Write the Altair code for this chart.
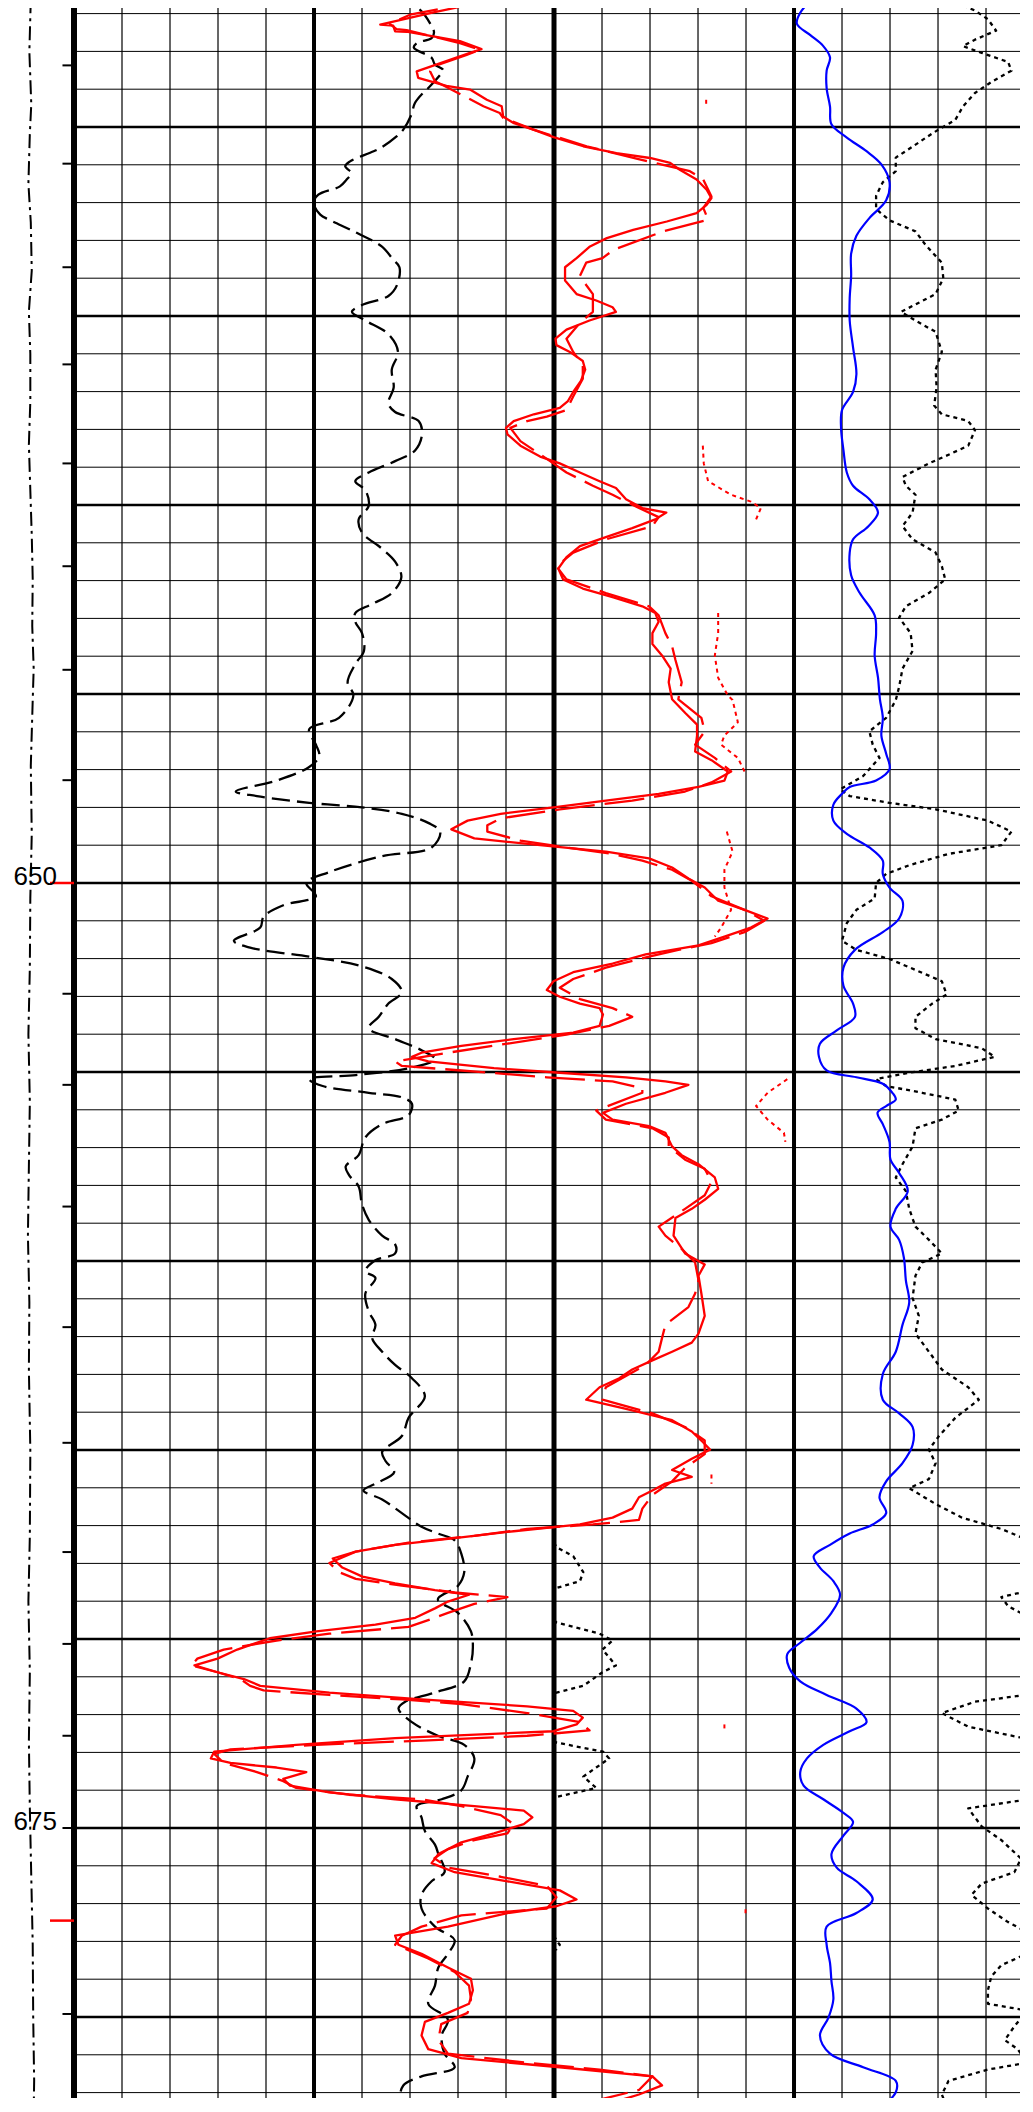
import altair as alt
import pandas as pd

# ---------------- data ----------------
# depth (ft) vs. grid-division value (track 1: 0-10, track 2: 10-20)

BLACK_DASHED = [
    (626.63, 6.72), (626.76, 7.00), (626.90, 7.21), (627.33, 7.45), (627.50, 7.50), (627.65, 7.45),
    (627.78, 7.14), (627.90, 7.08), (628.17, 7.45), (628.35, 7.52), (628.49, 7.69), (628.57, 7.66),
    (629.01, 7.35), (629.10, 7.27), (629.37, 7.10), (629.67, 7.03), (630.07, 6.86), (630.25, 6.72),
    (630.56, 6.38), (630.68, 6.17), (630.91, 5.75), (631.04, 5.65), (631.22, 5.78), (631.39, 5.68),
    (631.57, 5.54), (631.79, 5.09), (632.01, 4.99), (632.32, 5.13), (632.46, 5.33), (632.80, 5.89),
    (633.16, 6.41), (633.51, 6.65), (633.71, 6.78), (634.18, 6.73), (634.47, 6.55), (634.71, 6.00),
    (634.89, 5.79), (635.12, 6.07), (635.48, 6.55), (635.95, 6.75), (636.42, 6.62), (636.89, 6.66),
    (637.31, 6.55), (637.54, 6.69), (637.78, 7.18), (638.13, 7.25), (638.55, 7.11), (638.84, 6.69),
    (639.14, 6.14), (639.37, 5.86), (639.61, 6.07), (640.02, 6.14), (640.38, 5.93), (640.73, 6.00),
    (641.15, 6.41), (641.50, 6.69), (641.91, 6.82), (642.33, 6.62), (642.62, 6.21), (642.86, 5.86),
    (643.09, 5.86), (643.39, 6.00), (643.86, 6.04), (644.21, 5.86), (644.69, 5.70), (645.04, 5.82),
    (645.63, 5.52), (645.93, 4.90), (646.34, 5.04), (646.64, 5.11), (646.93, 4.90), (647.29, 4.22),
    (647.58, 3.37), (647.70, 3.81), (647.88, 4.90), (648.00, 6.00), (648.17, 6.83), (648.41, 7.38),
    (648.64, 7.63), (649.06, 7.45), (649.29, 6.42), (649.71, 5.32), (650.00, 4.84), (650.35, 5.04),
    (650.59, 4.36), (650.89, 3.95), (651.18, 3.88), (651.53, 3.33), (651.71, 3.67), (651.95, 4.90),
    (652.18, 5.93), (652.54, 6.62), (652.89, 6.83), (653.19, 6.55), (653.54, 6.35), (653.84, 6.14),
    (654.13, 6.69), (654.43, 7.25), (654.66, 7.52), (654.90, 6.97), (655.08, 5.87), (655.19, 4.90),
    (655.37, 5.18), (655.55, 6.14), (655.67, 6.83), (655.84, 7.04), (656.14, 6.97), (656.38, 6.42),
    (656.73, 6.07), (657.20, 5.93), (657.50, 5.66), (657.73, 5.73), (658.03, 5.93), (658.50, 6.00),
    (658.91, 6.14), (659.33, 6.42), (659.56, 6.69), (659.80, 6.69), (659.98, 6.28), (660.27, 6.07),
    (660.45, 6.28), (660.86, 6.07), (661.33, 6.14), (661.69, 6.28), (662.04, 6.21), (662.40, 6.42),
    (662.75, 6.69), (663.10, 7.04), (663.58, 7.31), (664.15, 6.97), (664.63, 6.83), (665.05, 6.42),
    (665.29, 6.49), (665.59, 6.67), (665.89, 6.28), (666.07, 6.03), (666.31, 6.42), (666.67, 6.83),
    (667.03, 7.24), (667.21, 7.58), (667.39, 7.93), (667.75, 8.07), (668.23, 8.13), (668.59, 8.00),
    (668.95, 7.58), (669.31, 8.00), (669.80, 8.27), (670.22, 8.31), (670.64, 8.27), (671.12, 8.13),
    (671.42, 7.51), (671.66, 6.90), (671.84, 6.76), (672.20, 7.04), (672.56, 7.58), (672.80, 8.13),
    (673.16, 8.34), (673.64, 8.20), (674.00, 8.07), (674.24, 7.66), (674.42, 7.14), (674.72, 7.24),
    (675.08, 7.31), (675.44, 7.52), (675.69, 7.59), (676.17, 7.72), (676.41, 7.45), (676.77, 7.24),
    (677.13, 7.24), (677.61, 7.52), (677.97, 7.93), (678.33, 7.79), (678.69, 7.59), (679.17, 7.52),
    (679.65, 7.38), (680.07, 7.79), (680.49, 7.66), (680.97, 7.72), (681.33, 7.93), (681.57, 7.24),
    (681.81, 6.86), (682.18, 6.79), (682.51, 6.83),
]

RED_SOLID = [
    (626.63, 8.74), (626.97, 7.49), (627.29, 6.38), (627.32, 6.65), (627.47, 6.69), (627.48, 6.93),
    (627.73, 8.04), (627.94, 8.49), (628.04, 8.25), (628.53, 7.14), (628.70, 7.17), (628.91, 7.76),
    (629.01, 8.25), (629.28, 8.60), (629.45, 8.91), (629.72, 8.94), (629.89, 9.15), (630.07, 9.57),
    (630.27, 9.99), (630.51, 10.61), (630.69, 11.30), (630.82, 12.00), (630.95, 12.42), (631.13, 12.62),
    (631.39, 12.97), (631.66, 13.18), (631.88, 13.28), (632.06, 13.18), (632.28, 12.97), (632.50, 12.35),
    (632.72, 11.65), (632.94, 11.10), (633.16, 10.75), (633.47, 10.47), (633.71, 10.23), (634.06, 10.23),
    (634.42, 10.47), (634.59, 10.88), (634.77, 11.22), (634.89, 11.29), (635.12, 10.74), (635.36, 10.26),
    (635.60, 10.03), (635.77, 10.05), (635.95, 10.33), (636.19, 10.60), (636.42, 10.65), (636.72, 10.56),
    (637.01, 10.40), (637.25, 10.29), (637.43, 10.12), (637.60, 9.58), (637.78, 9.16), (637.96, 9.00),
    (638.13, 9.03), (638.43, 9.30), (638.72, 9.71), (638.90, 10.12), (639.14, 10.54), (639.37, 10.95),
    (639.55, 11.29), (639.85, 11.50), (640.08, 11.84), (640.20, 12.34), (640.38, 12.11), (640.61, 11.63),
    (640.85, 11.08), (641.09, 10.54), (641.38, 10.26), (641.68, 10.09), (641.97, 10.19), (642.21, 10.60),
    (642.44, 11.22), (642.68, 11.84), (642.86, 12.11), (643.09, 12.18), (643.39, 12.05), (643.68, 12.05),
    (643.98, 12.25), (644.33, 12.43), (644.69, 12.39), (645.14, 12.46), (645.51, 12.74), (645.81, 12.98),
    (646.10, 12.98), (646.52, 12.94), (646.75, 13.28), (647.05, 13.62), (647.29, 13.55), (647.46, 13.01),
    (647.64, 12.18), (647.82, 11.08), (648.00, 9.99), (648.17, 8.89), (648.35, 8.20), (648.58, 7.86),
    (648.82, 8.34), (649.00, 9.71), (649.17, 11.08), (649.35, 11.98), (649.59, 12.46), (649.88, 12.80),
    (650.12, 13.14), (650.47, 13.42), (650.71, 13.97), (650.94, 14.45), (651.18, 14.10), (651.42, 13.55),
    (651.65, 13.01), (651.89, 11.91), (652.13, 11.22), (652.36, 10.40), (652.60, 9.99), (652.83, 9.85),
    (653.01, 10.12), (653.19, 10.54), (653.31, 10.95), (653.48, 11.02), (653.78, 10.95), (653.96, 10.40),
    (654.13, 9.16), (654.31, 8.07), (654.49, 7.24), (654.60, 7.04), (654.72, 7.38), (654.90, 8.75),
    (655.02, 10.12), (655.14, 11.50), (655.25, 12.32), (655.34, 12.80), (655.55, 12.32), (655.84, 11.50),
    (656.08, 11.02), (656.26, 11.22), (656.43, 11.98), (656.61, 12.32), (656.97, 12.46), (657.20, 12.66),
    (657.44, 13.01), (657.79, 13.35), (658.09, 13.42), (658.38, 13.14), (658.62, 12.87), (658.86, 12.53),
    (659.33, 12.49), (659.80, 12.73), (660.09, 13.14), (660.39, 13.01), (660.86, 13.07), (661.45, 13.14),
    (661.92, 13.01), (662.16, 12.87), (662.40, 12.46), (662.63, 12.05), (662.87, 11.63), (663.10, 11.36),
    (663.34, 10.95), (663.67, 10.67), (663.91, 11.50), (664.21, 12.46), (664.51, 12.87), (664.75, 13.07),
    (664.99, 13.25), (665.23, 12.87), (665.53, 12.46), (665.71, 12.87), (665.89, 12.32), (666.07, 12.05),
    (666.25, 11.77), (666.55, 11.63), (666.79, 11.22), (666.97, 10.54), (667.15, 9.16), (667.33, 7.93),
    (667.51, 6.69), (667.69, 5.87), (667.87, 5.39), (668.11, 5.59), (668.35, 6.01), (668.53, 6.69),
    (668.71, 7.52), (668.83, 8.23), (669.01, 7.79), (669.19, 7.52), (669.44, 7.11), (669.62, 6.28),
    (669.80, 5.05), (669.98, 4.08), (670.28, 3.40), (670.52, 2.99), (670.70, 2.51), (670.88, 2.99),
    (671.06, 3.54), (671.24, 3.88), (671.42, 5.32), (671.60, 7.24), (671.78, 9.44), (671.90, 10.40),
    (672.08, 10.60), (672.26, 10.47), (672.44, 9.99), (672.62, 6.69), (672.80, 4.63), (672.98, 2.92),
    (673.16, 2.85), (673.28, 3.26), (673.40, 4.22), (673.52, 4.84), (673.70, 4.36), (673.88, 4.50),
    (674.06, 5.32), (674.24, 6.69), (674.42, 8.34), (674.54, 9.37), (674.72, 9.55), (674.90, 9.37),
    (675.14, 8.75), (675.38, 8.07), (675.69, 7.59), (675.93, 7.45), (676.17, 7.93), (676.41, 9.03),
    (676.65, 10.12), (676.89, 10.47), (677.07, 10.05), (677.25, 9.03), (677.61, 7.79), (677.85, 6.69),
    (678.09, 6.76), (678.33, 7.24), (678.69, 7.79), (678.99, 8.27), (679.29, 8.31), (679.65, 8.23),
    (679.89, 7.79), (680.13, 7.31), (680.49, 7.24), (680.85, 7.38), (681.09, 8.07), (681.33, 10.12),
    (681.57, 12.05), (681.81, 12.25), (682.05, 11.77), (682.42, 10.81),
]

RED_DASHED = [
    (626.63, 8.60), (627.03, 7.00), (627.27, 6.58), (627.41, 6.72), (627.44, 6.93), (627.78, 8.04),
    (627.96, 8.46), (628.09, 8.18), (628.40, 7.49), (628.53, 7.42), (628.79, 7.52), (628.92, 7.73),
    (629.45, 8.53), (629.63, 8.87), (629.76, 8.94), (630.07, 9.57), (630.51, 10.68), (630.85, 11.76),
    (631.17, 12.83), (631.39, 13.11), (631.84, 13.28), (632.14, 13.11), (632.45, 13.21), (632.76, 12.28),
    (633.25, 11.24), (633.47, 11.01), (633.59, 10.67), (633.94, 10.54), (634.18, 10.67), (634.42, 10.81),
    (634.89, 10.81), (635.18, 10.54), (635.60, 10.26), (635.95, 10.40), (636.30, 10.60), (636.66, 10.60),
    (637.13, 10.40), (637.49, 10.26), (637.66, 9.85), (637.78, 9.44), (637.96, 9.09), (638.31, 9.30),
    (638.78, 9.85), (639.14, 10.26), (639.49, 10.81), (639.73, 11.22), (640.08, 11.77), (640.32, 12.18),
    (640.56, 12.05), (640.91, 11.08), (641.26, 10.40), (641.62, 10.05), (641.97, 10.26), (642.33, 11.08),
    (642.68, 11.98), (642.92, 12.18), (643.39, 12.32), (643.74, 12.46), (644.10, 12.53), (644.69, 12.66),
    (645.14, 12.59), (645.63, 13.07), (645.99, 13.14), (646.34, 12.94), (646.69, 13.35), (647.05, 13.69),
    (647.34, 13.28), (647.58, 12.73), (647.82, 11.63), (648.05, 10.12), (648.29, 8.89), (648.47, 8.61),
    (648.64, 8.61), (648.88, 9.30), (649.06, 10.26), (649.23, 11.22), (649.41, 11.84), (649.65, 12.46),
    (649.94, 12.87), (650.35, 13.28), (650.71, 13.97), (651.00, 14.38), (651.30, 13.97), (651.59, 13.28),
    (651.77, 12.59), (651.95, 11.98), (652.24, 11.08), (652.54, 10.40), (652.77, 10.12), (653.07, 10.54),
    (653.31, 11.22), (653.54, 11.63), (653.78, 11.15), (654.01, 10.26), (654.25, 9.03), (654.49, 7.79),
    (654.72, 6.69), (654.84, 6.83), (654.96, 8.07), (655.14, 9.85), (655.25, 11.22), (655.43, 11.84),
    (655.55, 11.84), (656.02, 10.88), (656.26, 11.08), (656.49, 12.05), (656.73, 12.39), (656.97, 12.39),
    (657.32, 12.73), (657.56, 13.14), (657.91, 13.28), (658.26, 13.14), (658.62, 12.73), (659.09, 12.18),
    (659.33, 12.32), (659.68, 12.66), (660.04, 12.94), (660.51, 13.01), (660.86, 12.94), (661.22, 12.80),
    (661.69, 12.32), (662.04, 12.25), (662.40, 12.18), (662.75, 11.91), (663.34, 11.08), (663.67, 11.01),
    (664.03, 12.05), (664.39, 12.73), (664.75, 13.14), (665.11, 13.14), (665.47, 12.73), (665.83, 12.46),
    (666.19, 12.05), (666.55, 11.84), (666.85, 11.77), (666.97, 10.81), (667.09, 9.44), (667.27, 8.34),
    (667.45, 6.97), (667.69, 5.87), (667.99, 5.32), (668.23, 5.52), (668.41, 5.87), (668.59, 6.83),
    (668.77, 7.93), (668.89, 9.03), (669.07, 8.34), (669.31, 7.79), (669.50, 7.38), (669.68, 6.97),
    (669.86, 5.32), (670.04, 4.22), (670.28, 3.12), (670.52, 2.57), (670.70, 2.44), (670.88, 2.99),
    (671.06, 3.47), (671.24, 3.67), (671.36, 3.95), (671.48, 5.32), (671.60, 6.83), (671.72, 8.07),
    (671.96, 9.44), (672.20, 10.54), (672.42, 10.74), (672.56, 9.44), (672.68, 7.38), (672.80, 5.05),
    (672.92, 3.26), (673.04, 2.92), (673.28, 3.12), (673.52, 3.81), (673.76, 4.36), (673.94, 4.63),
    (674.12, 5.73), (674.24, 7.24), (674.42, 8.07), (674.66, 8.89), (674.90, 9.16), (675.14, 9.03),
    (675.32, 8.34), (675.56, 7.79), (675.80, 7.51), (676.05, 7.79), (676.29, 8.89), (676.53, 9.85),
    (676.83, 10.05), (677.13, 9.85), (677.31, 8.07), (677.61, 7.24), (677.85, 6.83), (678.09, 6.69),
    (678.45, 7.38), (678.81, 7.93), (679.17, 8.23), (679.53, 8.27), (679.89, 8.20), (680.19, 7.65),
    (680.61, 7.59), (680.97, 7.79), (681.21, 9.44), (681.39, 10.95), (681.57, 12.05), (681.93, 11.77),
    (682.23, 10.81), (682.51, 10.53),
]

BLUE = [
    (626.62, 15.37), (626.98, 15.13), (627.27, 15.06), (627.57, 15.34), (627.86, 15.61), (628.16, 15.75),
    (628.51, 15.68), (628.98, 15.68), (629.46, 15.75), (629.93, 15.78), (630.28, 16.10), (630.64, 16.51),
    (630.99, 16.82), (631.46, 16.99), (631.94, 16.92), (632.41, 16.57), (632.88, 16.30), (633.35, 16.19),
    (633.94, 16.19), (634.53, 16.16), (635.12, 16.16), (635.83, 16.23), (636.54, 16.30), (637.01, 16.23),
    (637.49, 16.00), (637.96, 15.98), (638.55, 16.03), (639.14, 16.10), (639.49, 16.23), (639.85, 16.57),
    (640.20, 16.75), (640.56, 16.55), (640.91, 16.23), (641.26, 16.16), (641.86, 16.19), (642.33, 16.37),
    (642.92, 16.68), (643.39, 16.71), (643.98, 16.68), (644.57, 16.75), (645.14, 16.79), (645.63, 16.85),
    (646.10, 16.82), (646.58, 16.92), (646.99, 16.99), (647.29, 16.71), (647.46, 16.16), (647.64, 16.00),
    (647.93, 15.82), (648.35, 15.82), (648.70, 16.10), (649.06, 16.57), (649.41, 16.85), (649.76, 16.85),
    (650.12, 16.99), (650.47, 17.26), (650.94, 17.19), (651.30, 16.85), (651.77, 16.27), (652.24, 16.03),
    (652.72, 16.03), (653.19, 16.23), (653.54, 16.27), (653.90, 15.89), (654.25, 15.54), (654.60, 15.52),
    (654.96, 15.68), (655.14, 16.30), (655.31, 16.85), (655.55, 17.05), (655.73, 17.12), (655.90, 16.92),
    (656.08, 16.74), (656.38, 16.85), (656.85, 16.99), (657.32, 17.01), (657.67, 17.19), (658.15, 17.37),
    (658.62, 17.12), (659.09, 17.01), (659.44, 17.19), (659.92, 17.29), (660.51, 17.33), (661.10, 17.40),
    (661.69, 17.26), (662.40, 17.12), (662.99, 16.85), (663.67, 16.85), (664.03, 17.19), (664.39, 17.47),
    (664.87, 17.47), (665.35, 17.26), (665.83, 16.92), (666.25, 16.78), (666.67, 16.92), (666.97, 16.64),
    (667.21, 16.16), (667.51, 15.75), (667.81, 15.41), (668.11, 15.54), (668.47, 15.82), (668.83, 15.96),
    (669.31, 15.78), (669.74, 15.48), (670.10, 15.13), (670.40, 14.86), (670.76, 14.90), (671.12, 15.13),
    (671.48, 15.68), (671.84, 16.30), (672.20, 16.51), (672.44, 16.16), (672.80, 15.61), (673.16, 15.27),
    (673.52, 15.13), (673.88, 15.20), (674.24, 15.61), (674.60, 16.03), (674.84, 16.23), (675.20, 16.03),
    (675.69, 15.78), (676.05, 15.89), (676.41, 16.30), (676.89, 16.64), (677.25, 16.30), (677.61, 15.68),
    (678.09, 15.68), (678.57, 15.75), (679.05, 15.78), (679.53, 15.82), (680.01, 15.72), (680.49, 15.54),
    (680.97, 15.75), (681.33, 16.44), (681.69, 17.12), (681.99, 17.12), (682.51, 16.71),
]

# values above 20 wrap back into track 2 (backup scale, value - 10)
BLACK_DOTTED = [
    (626.62, 18.22), (626.92, 18.77), (627.15, 19.04), (627.45, 19.21), (627.69, 18.77), (627.86, 18.52),
    (628.04, 18.91), (628.28, 19.46), (628.51, 19.53), (628.81, 19.11), (629.10, 18.77), (629.46, 18.52),
    (629.81, 18.36), (630.17, 17.88), (630.52, 17.47), (630.81, 17.12), (631.17, 17.12), (631.46, 16.85),
    (631.82, 16.71), (632.17, 16.71), (632.47, 16.99), (632.76, 17.53), (633.12, 17.74), (633.59, 18.08),
    (634.00, 18.11), (634.42, 17.95), (634.65, 17.60), (634.89, 17.23), (635.12, 17.53), (635.42, 17.95),
    (635.95, 18.08), (636.42, 17.95), (636.89, 17.97), (637.37, 17.92), (637.60, 18.08), (637.78, 18.63),
    (638.02, 18.77), (638.43, 18.63), (638.67, 18.22), (638.90, 17.81), (639.26, 17.26), (639.49, 17.33),
    (639.73, 17.53), (640.20, 17.47), (640.56, 17.26), (640.91, 17.47), (641.26, 17.95), (641.62, 18.08),
    (641.97, 18.15), (642.33, 17.81), (642.68, 17.33), (642.98, 17.19), (643.39, 17.43), (643.86, 17.47),
    (644.33, 17.26), (644.81, 17.19), (645.16, 17.12), (645.63, 16.92), (645.99, 16.57), (646.34, 16.64),
    (646.69, 16.78), (647.17, 16.44), (647.52, 15.96), (647.70, 16.16), (647.88, 16.99), (648.05, 17.95),
    (648.35, 19.04), (648.64, 19.53), (649.00, 19.32), (649.23, 18.22), (649.53, 17.40), (649.76, 16.92),
    (650.00, 16.71), (650.41, 16.68), (650.71, 16.30), (651.06, 16.10), (651.53, 16.00), (651.77, 16.30),
    (652.01, 16.99), (652.30, 17.53), (652.60, 18.08), (652.95, 18.18), (653.19, 17.88), (653.54, 17.53),
    (653.84, 17.53), (654.13, 17.95), (654.37, 18.91), (654.60, 19.18), (654.84, 18.36), (655.02, 17.40),
    (655.19, 16.71), (655.37, 16.92), (655.55, 17.67), (655.73, 18.36), (656.02, 18.43), (656.26, 18.08),
    (656.49, 17.53), (656.97, 17.47), (657.44, 17.26), (657.79, 17.12), (658.15, 17.33), (658.62, 17.40),
    (659.09, 17.53), (659.44, 17.81), (659.80, 18.08), (660.04, 17.67), (660.39, 17.53), (660.98, 17.47),
    (661.45, 17.60), (661.92, 17.53), (662.40, 17.81), (662.87, 18.08), (663.34, 18.63), (663.67, 18.85),
    (664.15, 18.36), (664.63, 18.02), (664.99, 17.81), (665.35, 17.95), (665.77, 17.81), (666.01, 17.40),
    (666.43, 17.95), (666.79, 18.50), (667.09, 19.32), (667.45, 20.00), (667.57, 20.05), (667.81, 20.40),
    (668.23, 20.61), (668.47, 20.54), (668.65, 20.05), (668.69, 20.00), (668.89, 19.32), (669.13, 19.46),
    (669.50, 20.00), (669.56, 20.05), (669.86, 20.95), (670.04, 21.22), (670.28, 21.01), (670.70, 21.29),
    (670.88, 21.01), (671.24, 20.61), (671.42, 20.05), (671.45, 20.00), (671.66, 18.77), (671.96, 18.08),
    (672.32, 18.63), (672.68, 20.00), (672.74, 20.05), (672.98, 21.02), (673.16, 21.15), (673.40, 20.88),
    (673.64, 20.61), (673.94, 20.88), (674.18, 20.05), (674.22, 20.00), (674.48, 18.63), (674.96, 18.91),
    (675.32, 19.32), (675.81, 19.73), (676.17, 19.59), (676.47, 18.91), (676.77, 18.70), (677.13, 19.04),
    (677.49, 19.46), (677.85, 20.00), (677.97, 20.05), (678.09, 20.12), (678.21, 20.05), (678.24, 20.00),
    (678.63, 19.32), (678.93, 19.11), (679.29, 19.04), (679.65, 19.04), (679.83, 19.86), (680.25, 19.59),
    (680.61, 19.39), (680.85, 19.66), (681.21, 19.86), (681.39, 19.04), (681.69, 18.22), (682.05, 18.08),
    (682.51, 18.22),
]

RED_DOTTED_SEGMENTS = [
    [(629.28, 13.17), (629.46, 13.17)],
    [(638.43, 13.10), (638.90, 13.12), (639.37, 13.21), (639.73, 13.69), (639.91, 14.10), (640.08, 14.31),
     (640.38, 14.21)],
    [(642.86, 13.42), (643.39, 13.42), (643.98, 13.35), (644.57, 13.42), (645.04, 13.62), (645.16, 13.72),
     (645.75, 13.83), (646.10, 13.55), (646.34, 13.48), (646.69, 13.83), (647.05, 13.97)],
    [(648.64, 13.60), (649.17, 13.72), (649.65, 13.55), (650.12, 13.55), (650.71, 13.69), (651.18, 13.48),
     (651.42, 13.35)],
    [(655.19, 14.86), (655.55, 14.45), (655.90, 14.21), (656.26, 14.45), (656.61, 14.79), (656.85, 14.82)],
    [(665.65, 13.28), (665.89, 13.28)],
    [(672.26, 13.55), (672.42, 13.55)],
    [(677.15, 13.99), (677.27, 13.99)],
]

DASH_DOT = [
    (626.62, -0.90), (628.00, -0.93), (629.40, -0.89), (630.17, -0.92), (631.50, -0.95), (632.53, -0.90),
    (633.80, -0.88), (634.89, -0.94), (636.00, -0.91), (637.25, -0.91), (638.40, -0.94), (639.61, -0.91),
    (640.80, -0.88), (641.97, -0.86), (643.20, -0.87), (644.33, -0.84), (645.16, -0.86), (646.90, -0.90),
    (648.70, -0.88), (650.40, -0.91), (652.24, -0.92), (654.00, -0.95), (655.79, -0.92), (657.50, -0.94),
    (659.33, -0.96), (661.10, -0.93), (662.87, -0.94), (665.00, -0.91), (667.27, -0.92), (669.00, -0.95),
    (670.88, -0.92), (672.70, -0.94), (674.48, -0.92), (676.30, -0.89), (678.09, -0.86), (680.00, -0.85),
    (681.69, -0.83), (682.51, -0.84),
]

DEPTH_LABELS = [650, 675]
BLACK_TICK_DEPTHS = [628.37, 630.97, 633.71, 636.28, 638.90, 641.62, 644.36, 647.28, 652.93, 655.34,
                     658.56, 661.75, 664.81, 667.70, 670.13, 672.56, 675.00, 679.92]
RED_TICK_DEPTHS = [650.00, 677.45]
GRID_V_MINOR = [1, 2, 3, 4, 6, 7, 8, 9, 11, 12, 13, 14, 16, 17, 18, 19]
GRID_V_MAJOR = [5, 15]
GRID_V_CENTER = [10]
GRID_V_EDGE = [0]
GRID_H_MINOR = [d for d in range(627, 683) if d % 5 != 0]
GRID_H_MAJOR = [d for d in range(630, 683, 5)]

# ---------------- scales ----------------
X_DOMAIN = [-1.375, 19.708]
Y_DOMAIN = [626.852, 682.143]
W, H = 1012, 2090


def xs(field, **kw):
    return alt.X(field, type="quantitative",
                 scale=alt.Scale(domain=X_DOMAIN, nice=False, zero=False), axis=None, **kw)


def ys(field):
    return alt.Y(field, type="quantitative",
                 scale=alt.Scale(domain=Y_DOMAIN, nice=False, zero=False, reverse=True), axis=None)


def pairs_df(pairs, seg=0):
    return pd.DataFrame({"depth": [p[0] for p in pairs], "v": [p[1] for p in pairs],
                         "i": list(range(len(pairs))), "seg": seg})


def curve(df, color, width, dash=None, detail=False, smooth=False):
    kw = dict(color=color, strokeWidth=width, clip=True, strokeJoin="round")
    if dash:
        kw["strokeDash"] = dash
    if smooth:
        kw["interpolate"] = "catmull-rom"
    enc = dict(x=xs("v"), y=ys("depth"), order=alt.Order("i:Q"))
    if detail:
        enc["detail"] = alt.Detail("seg:N")
    return alt.Chart(df).mark_line(**kw).encode(**enc)


def vrules(vals, width):
    return alt.Chart(pd.DataFrame({"x": vals})).mark_rule(color="black", strokeWidth=width, clip=True).encode(
        x=xs("x"))


def hrules(vals, width):
    df = pd.DataFrame({"depth": vals, "x0": 0, "x1": 20})
    return alt.Chart(df).mark_rule(color="black", strokeWidth=width, clip=True).encode(
        y=ys("depth"), x=xs("x0"), x2="x1")


def ticks(vals, color, x0, width):
    df = pd.DataFrame({"depth": vals, "x0": x0, "x1": 0})
    return alt.Chart(df).mark_rule(color=color, strokeWidth=width).encode(
        y=ys("depth"), x=xs("x0"), x2="x1")


# wrapped (backup) part of the dotted curve
wrap_rows = []
seg_id = 0
inside = False
for d, v in BLACK_DOTTED:
    if v >= 20:
        if not inside:
            seg_id += 1
            inside = True
        wrap_rows.append((d, v - 10, seg_id))
    else:
        inside = False
wrap_df = pd.DataFrame({"depth": [r[0] for r in wrap_rows], "v": [r[1] for r in wrap_rows],
                        "i": list(range(len(wrap_rows))), "seg": [r[2] for r in wrap_rows]})

red_dot_df = pd.concat([pairs_df(s, n) for n, s in enumerate(RED_DOTTED_SEGMENTS)], ignore_index=True)
red_dot_df["i"] = range(len(red_dot_df))

labels_df = pd.DataFrame({"depth": [d + 0.05 for d in DEPTH_LABELS], "x": -0.354,
                          "label": [str(d) for d in DEPTH_LABELS]})
labels = alt.Chart(labels_df).mark_text(align="right", baseline="alphabetic", fontSize=26,
                                        font="Liberation Sans", color="black").encode(
    x=xs("x"), y=ys("depth"), text="label:N")

layers = [
    hrules(GRID_H_MINOR, 1),
    hrules(GRID_H_MAJOR, 2.3),
    vrules(GRID_V_MINOR, 1.2),
    vrules(GRID_V_MAJOR, 4),
    vrules(GRID_V_CENTER, 5),
    vrules(GRID_V_EDGE, 6),
    ticks(BLACK_TICK_DEPTHS, "black", -0.24, 2),
    ticks(RED_TICK_DEPTHS, "#ff0000", -0.5, 2.5),
    curve(pairs_df(DASH_DOT), "black", 2, [14, 5, 3, 5]),
    curve(pairs_df(BLACK_DOTTED), "black", 2.3, [4, 4]),
    curve(wrap_df, "black", 2.3, [4, 4], detail=True),
    curve(pairs_df(BLUE), "#0000ff", 2.2, smooth=True),
    curve(pairs_df(BLACK_DASHED), "black", 2.3, [18, 7], smooth=True),
    curve(red_dot_df, "#ff0000", 2, [4, 4], detail=True),
    curve(pairs_df(RED_DASHED), "#ff0000", 2.3, [40, 10]),
    curve(pairs_df(RED_SOLID), "#ff0000", 2.3),
    labels,
]

chart = alt.layer(*layers).properties(
    width=W, height=H, padding=0, autosize=alt.AutoSizeParams(type="none"), background="white"
).configure_view(stroke=None)

chart.save("out.html", embed_options={"renderer": "svg", "actions": False})
